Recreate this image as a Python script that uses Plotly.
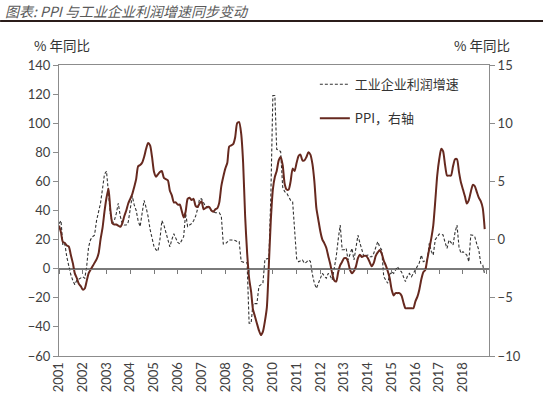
import pandas as pd
import plotly.graph_objects as go

# ---- data (monthly, Jan 2001 - Dec 2018) ----
years = list(range(2001, 2019))

ppi = [
    1.2, 0.6, -0.2, -0.3, -0.5, -0.6, -1.3, -2.0, -2.9, -3.3, -3.8, -4.0,      # 2001
    -4.3, -4.2, -3.6, -2.9, -2.6, -2.3, -2.0, -1.7, -1.2, 0.0, 1.0, 2.4,        # 2002
    3.6, 4.4, 2.6, 1.4, 1.3, 1.3, 1.2, 1.1, 1.4, 2.0, 2.5, 3.1,                 # 2003
    3.5, 3.9, 4.5, 5.2, 6.3, 6.4, 6.6, 7.1, 7.8, 8.3, 8.1, 7.1,                 # 2004
    5.8, 5.4, 5.6, 5.8, 5.9, 5.3, 5.2, 5.1, 4.2, 3.8, 3.2, 3.2,                 # 2005
    3.0, 3.0, 2.5, 1.9, 2.4, 3.5, 3.6, 3.4, 3.5, 2.9, 2.8, 3.1,                 # 2006
    3.3, 2.6, 2.7, 2.8, 2.8, 2.5, 2.4, 2.6, 2.7, 3.2, 4.6, 5.4,                 # 2007
    6.1, 6.6, 8.0, 8.1, 8.2, 8.8, 10.0, 10.1, 9.1, 6.6, 2.0, -1.1,              # 2008
    -3.3, -4.5, -6.0, -6.6, -7.2, -7.8, -8.2, -7.9, -7.0, -5.8, -2.1, 1.7,      # 2009
    4.3, 5.4, 5.9, 6.8, 7.1, 6.4, 4.8, 4.3, 4.3, 5.0, 6.1, 5.9,                 # 2010
    6.6, 7.2, 7.3, 6.8, 6.8, 7.1, 7.5, 7.3, 6.5, 5.0, 2.7, 1.7,                 # 2011
    0.7, 0.0, -0.3, -0.7, -1.4, -2.1, -2.9, -3.5, -3.6, -2.8, -2.2, -1.9,       # 2012
    -1.6, -1.6, -1.9, -2.6, -2.9, -2.7, -2.3, -1.6, -1.3, -1.5, -1.4, -1.4,     # 2013
    -1.6, -2.0, -2.3, -2.0, -1.4, -1.1, -0.9, -1.2, -1.8, -2.2, -2.7, -3.3,     # 2014
    -4.3, -4.8, -4.6, -4.6, -4.6, -4.8, -5.4, -5.9, -5.9, -5.9, -5.9, -5.9,     # 2015
    -5.3, -4.9, -4.3, -3.4, -2.8, -2.6, -1.7, -0.8, 0.1, 1.2, 3.3, 5.5,         # 2016
    6.9, 7.8, 7.6, 6.4, 5.5, 5.5, 5.5, 6.3, 6.9, 6.9, 5.8, 4.9,                 # 2017
    4.3, 3.7, 3.1, 3.4, 4.1, 4.7, 4.6, 4.1, 3.6, 3.3, 2.7, 0.9,                 # 2018
]

profit = [
    31, 33, 16, 17, 8, 1, -4, -8, -11, -8, -7, -6,                  # 2001
    -5.5, -6.6, 1, 15, 20, 22, 23, 33, 40, 45, 55, 65,              # 2002
    67, 52, 38, 31, 33, 38, 45, 36, 31, 30, 30, 32,                 # 2003
    42, 50, 44, 40, 33, 29, 38, 47, 42, 36, 27, 22,                 # 2004
    15, 13, 12, 20, 33, 30, 25, 19, 15, 20, 24, 21,                 # 2005
    18, 17, 20, 22, 38, 29, 30, 31, 33, 36, 41, 48,                 # 2006
    48, 45, 43, 42, 41.5, 40, 39, 38.5, 38.5, 38.5, 36, 17,         # 2007
    17, 18.6, 19.7, 19.7, 19.7, 19.4, 18.6, 18.6, 5, 4.5, 4.1, 4.1, # 2008
    -37.5, -37.5, -24, -24, -24, -12, -11, -10, 6.5, 7, 7.1, 50,    # 2009
    119, 119, 82, 81.6, 80.4, 56, 53, 52, 49, 47, 46, 29,           # 2010
    7, 4.8, 5.5, 6, 3.7, 4.5, 6, 5, -4, -10, -13.5, -10,            # 2011
    -7.8, -3.2, -5, -6.6, -3.2, -5, -7.8, -1, 8.2, 20, 30, 13,      # 2012
    13, 14, 6, 10, 14, 6, 15, 23, 17.5, 12, 8.2, 9,                 # 2013
    9.4, 8.2, 8.2, 10.6, 15, 18.6, 15, 12.9, -5.5, -8, -10, -4,     # 2014
    -2.1, -3.2, -1, 1.4, -1, -2.1, -5.5, -8.9, -5, -3.2, -5.5, -3,  # 2015
    -0.9, 2, 4, 9.4, 4.8, 5.5, 6, 17.5, 12, 9.4, 20, 22,            # 2016
    23.8, 23.8, 23.2, 18, 14, 19.7, 18, 16.3, 25, 30, 15, 10.6,     # 2017
    11.7, 10.5, 9.4, 4.8, 23.2, 23, 22, 17, 12.9, 3.7, 2.5, -4,     # 2018
]

profit_name = "工业企业利润增速"
ppi_name = "PPI，右轴"
title_text = "图表: PPI 与工业企业利润增速同步变动"
axis_unit = "% 年同比"

dates = pd.date_range("2001-01-01", periods=len(ppi), freq="MS")
year_ticks = [pd.Timestamp(f"{y}-01-01") for y in years]
year_text = [str(y) for y in years]

TICK_FONT = dict(family="Lato, Open Sans, sans-serif", size=13, color="#404040")
CJK = "Noto Sans CJK SC, sans-serif"
FRAME = "#8c8c8c"
XR = ["2001-01-01", "2019-02-05"]

fig = go.Figure()
fig.add_trace(go.Scatter(
    x=dates, y=profit, name=profit_name, mode="lines",
    xaxis="x", yaxis="y", legendgroup="a",
    line=dict(color="#333333", width=1.1, dash="3px,2px"),
))
fig.add_trace(go.Scatter(
    x=dates, y=ppi, name=ppi_name, mode="lines",
    xaxis="x", yaxis="y2", legendgroup="b",
    line=dict(color="#66291f", width=2, shape="spline", smoothing=0.6),
))
# invisible helper trace so the zero-line axis (x2) with year ticks is drawn
fig.add_trace(go.Scatter(
    x=dates[:1], y=[0], xaxis="x2", yaxis="y", mode="markers",
    marker=dict(opacity=0), showlegend=False, hoverinfo="skip",
))

fig.update_layout(
    width=550, height=398,
    margin=dict(l=59, r=61, t=65, b=42, autoexpand=False),
    paper_bgcolor="white", plot_bgcolor="white",
    showlegend=True,
    legend=dict(x=0.595, y=0.985, xanchor="left", yanchor="top",
                bgcolor="rgba(0,0,0,0)", tracegroupgap=14, itemwidth=30,
                font=dict(family=CJK, size=13, color="#333333")),
    xaxis=dict(type="date", range=XR, showgrid=False, zeroline=False, automargin=False,
               showline=True, linecolor=FRAME, linewidth=1, mirror=True,
               ticks="", tickmode="array", tickvals=year_ticks, ticktext=year_text,
               tickangle=-90, tickfont=TICK_FONT),
    xaxis2=dict(type="date", range=XR, overlaying="x", anchor="free", position=0.3,
                automargin=False,
                showgrid=False, zeroline=False, showline=True, linecolor="#7a7a7a",
                linewidth=1, ticks="outside", ticklen=4, tickcolor="#7a7a7a",
                tick0="2001-01-01", dtick="M12", showticklabels=False),
    yaxis=dict(range=[-60, 140], dtick=20, showgrid=False, zeroline=True, automargin=False,
               zerolinecolor="#7a7a7a", zerolinewidth=1,
               showline=True, linecolor=FRAME, linewidth=1, mirror=True,
               ticks="outside", ticklen=5, tickcolor=FRAME, tickfont=TICK_FONT),
    yaxis2=dict(range=[-10, 15], dtick=5, overlaying="y", side="right", anchor="x",
                automargin=False,
                showgrid=False, zeroline=False, showline=True, linecolor=FRAME,
                linewidth=1, ticks="outside", ticklen=5, tickcolor=FRAME,
                tickfont=TICK_FONT),
    shapes=[dict(type="line", xref="paper", yref="paper",
                 x0=-0.137, x1=1.1256, y0=1.151, y1=1.151,
                 line=dict(color="#2b1d1a", width=2))],
    annotations=[
        dict(text=title_text, xref="paper", yref="paper", x=-0.13, y=1.186,
             xanchor="left", yanchor="middle", showarrow=False,
             font=dict(family=CJK, size=14, color="#5a5a5a", style="italic")),
        dict(text=axis_unit, xref="paper", yref="paper", x=0.007, y=1.069,
             xanchor="center", yanchor="middle", showarrow=False,
             font=dict(family=CJK, size=13.5, color="#333333")),
        dict(text=axis_unit, xref="paper", yref="paper", x=0.984, y=1.069,
             xanchor="center", yanchor="middle", showarrow=False,
             font=dict(family=CJK, size=13.5, color="#333333")),
    ],
)

fig.write_html("out.html", config={"displayModeBar": False},
               post_script="document.body.style.margin='0px';")
